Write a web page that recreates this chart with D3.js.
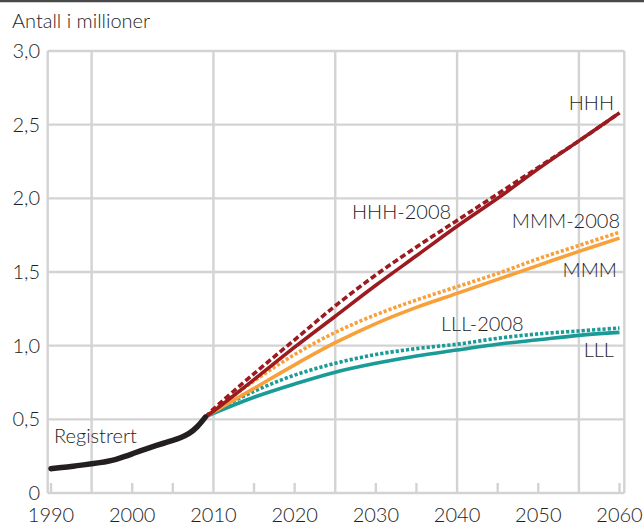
<!DOCTYPE html>
<html>
<head>
<meta charset="utf-8">
<script src="https://cdn.jsdelivr.net/npm/d3@7"></script>
<style>
  body { margin: 0; background: #fff; }
  text { font-family: Lato, "Open Sans", sans-serif; font-weight: 300; fill: #1e1e1e; }
</style>
</head>
<body>
<svg class="chart" width="644" height="528"></svg>
<script>
// registered numbers, 1990-2009 (millions)
const regYears = d3.range(1990, 2010);
const regValues = [0.165, 0.171, 0.177, 0.184, 0.191, 0.198, 0.206, 0.215, 0.228, 0.246,
  0.266, 0.286, 0.305, 0.323, 0.340, 0.357, 0.376, 0.402, 0.445, 0.515];

// projections
const projYears = [2009, 2010, 2015, 2020, 2025, 2030, 2035, 2040, 2045, 2050, 2055, 2060];
const hhh     = [0.515, 0.555, 0.77, 0.99, 1.20, 1.41, 1.61, 1.81, 2.00, 2.20, 2.39, 2.58];
const hhh2008 = [0.515, 0.57, 0.81, 1.04, 1.27, 1.48, 1.67, 1.85, 2.03, 2.21, 2.39, 2.58];
const mmm     = [0.515, 0.55, 0.71, 0.87, 1.02, 1.15, 1.26, 1.355, 1.45, 1.545, 1.64, 1.73];
const mmm2008 = [0.515, 0.56, 0.76, 0.94, 1.09, 1.21, 1.31, 1.40, 1.49, 1.59, 1.68, 1.77];
const lll     = [0.515, 0.54, 0.65, 0.74, 0.82, 0.88, 0.93, 0.97, 1.01, 1.04, 1.07, 1.09];
const lll2008 = [0.515, 0.55, 0.69, 0.80, 0.88, 0.94, 0.98, 1.01, 1.05, 1.08, 1.10, 1.12];

const yTicks = [0, 0.5, 1, 1.5, 2, 2.5, 3];
const xLabels = [1990, 2000, 2010, 2020, 2030, 2040, 2050, 2060];
const xGrid = [1995, 2010, 2025, 2040, 2055];
const xSmallTicks = [1990, 2000, 2005, 2015, 2020, 2030, 2035, 2045, 2050, 2060];

const svg = d3.select('.chart');
const x = d3.scaleLinear().domain([1990, 2060]).range([51, 619.5]);
const y = d3.scaleLinear().domain([0, 3]).range([493, 51]);
const left = x(1990) - 3.3;
const right = x(2060) + 4.8;
const gridColor = '#d3d3d3';
const fs = 20;

// top rule
svg.append('line')
  .attr('x1', 0).attr('x2', 644).attr('y1', 1).attr('y2', 1)
  .attr('stroke', '#4a4a4a').attr('stroke-width', 2.5);

svg.append('text')
  .attr('x', 12).attr('y', 28)
  .attr('font-size', fs)
  .text('Antall i millioner');

// grid + frame
const grid = svg.append('g').attr('stroke', gridColor).attr('stroke-width', 2.4);
grid.selectAll('.hg')
  .data(yTicks)
  .enter().append('line')
  .attr('x1', left).attr('x2', right)
  .attr('y1', d => y(d)).attr('y2', d => y(d));
grid.selectAll('.vg')
  .data(xGrid)
  .enter().append('line')
  .attr('x1', d => x(d)).attr('x2', d => x(d))
  .attr('y1', y(0)).attr('y2', y(3));
grid.append('line').attr('x1', left).attr('x2', left).attr('y1', y(0)).attr('y2', y(3));
grid.append('line').attr('x1', right).attr('x2', right).attr('y1', y(0)).attr('y2', y(3));
grid.selectAll('.tk')
  .data(xSmallTicks)
  .enter().append('line')
  .attr('x1', d => x(d)).attr('x2', d => x(d))
  .attr('y1', y(0)).attr('y2', y(0) - 10);

// axis labels
svg.append('g').selectAll('text')
  .data(yTicks)
  .enter().append('text')
  .attr('x', 40)
  .attr('y', d => y(d))
  .attr('dy', '0.35em')
  .attr('text-anchor', 'end')
  .attr('font-size', fs)
  .text(d => d === 0 ? '0' : d3.format('.1f')(d).replace('.', ','));

svg.append('g').selectAll('text')
  .data(xLabels)
  .enter().append('text')
  .attr('x', d => x(d))
  .attr('y', 522)
  .attr('text-anchor', 'middle')
  .attr('font-size', fs)
  .text(d => d);

// lines
const line = d3.line()
  .x(d => x(d[0]))
  .y(d => y(d[1]))
  .curve(d3.curveCatmullRom.alpha(0.5));

const series = [
  { values: lll, color: '#1b9b97', dash: null },
  { values: lll2008, color: '#1b9b97', dash: '3.2,2' },
  { values: mmm, color: '#f8a03a', dash: null },
  { values: mmm2008, color: '#f8a03a', dash: '3.2,2' },
  { values: hhh, color: '#9c1b21', dash: null },
  { values: hhh2008, color: '#9c1b21', dash: '6,3' },
];

svg.append('g').selectAll('path')
  .data(series)
  .enter().append('path')
  .attr('fill', 'none')
  .attr('stroke', d => d.color)
  .attr('stroke-width', 3.6)
  .attr('stroke-dasharray', d => d.dash)
  .attr('d', d => line(projYears.map((yr, i) => [yr, d.values[i]])));

svg.append('path')
  .attr('fill', 'none')
  .attr('stroke', '#231f20')
  .attr('stroke-width', 5.5)
  .attr('stroke-linecap', 'round')
  .attr('d', d3.line().x(d => x(d[0])).y(d => y(d[1])).curve(d3.curveBasis)(regYears.map((yr, i) => [yr, regValues[i]])));

// labels
const labels = [
  { text: 'HHH', x: 614, y: 110, anchor: 'end' },
  { text: 'HHH-2008', x: 352, y: 219, anchor: 'start' },
  { text: 'MMM-2008', x: 620, y: 228, anchor: 'end' },
  { text: 'MMM', x: 617, y: 277, anchor: 'end' },
  { text: 'LLL-2008', x: 441, y: 331, anchor: 'start' },
  { text: 'LLL', x: 614, y: 357, anchor: 'end' },
  { text: 'Registrert', x: 54, y: 443, anchor: 'start' },
];
svg.append('g').selectAll('text')
  .data(labels)
  .enter().append('text')
  .attr('x', d => d.x)
  .attr('y', d => d.y)
  .attr('text-anchor', d => d.anchor)
  .attr('font-size', fs)
  .text(d => d.text);
</script>
</body>
</html>
